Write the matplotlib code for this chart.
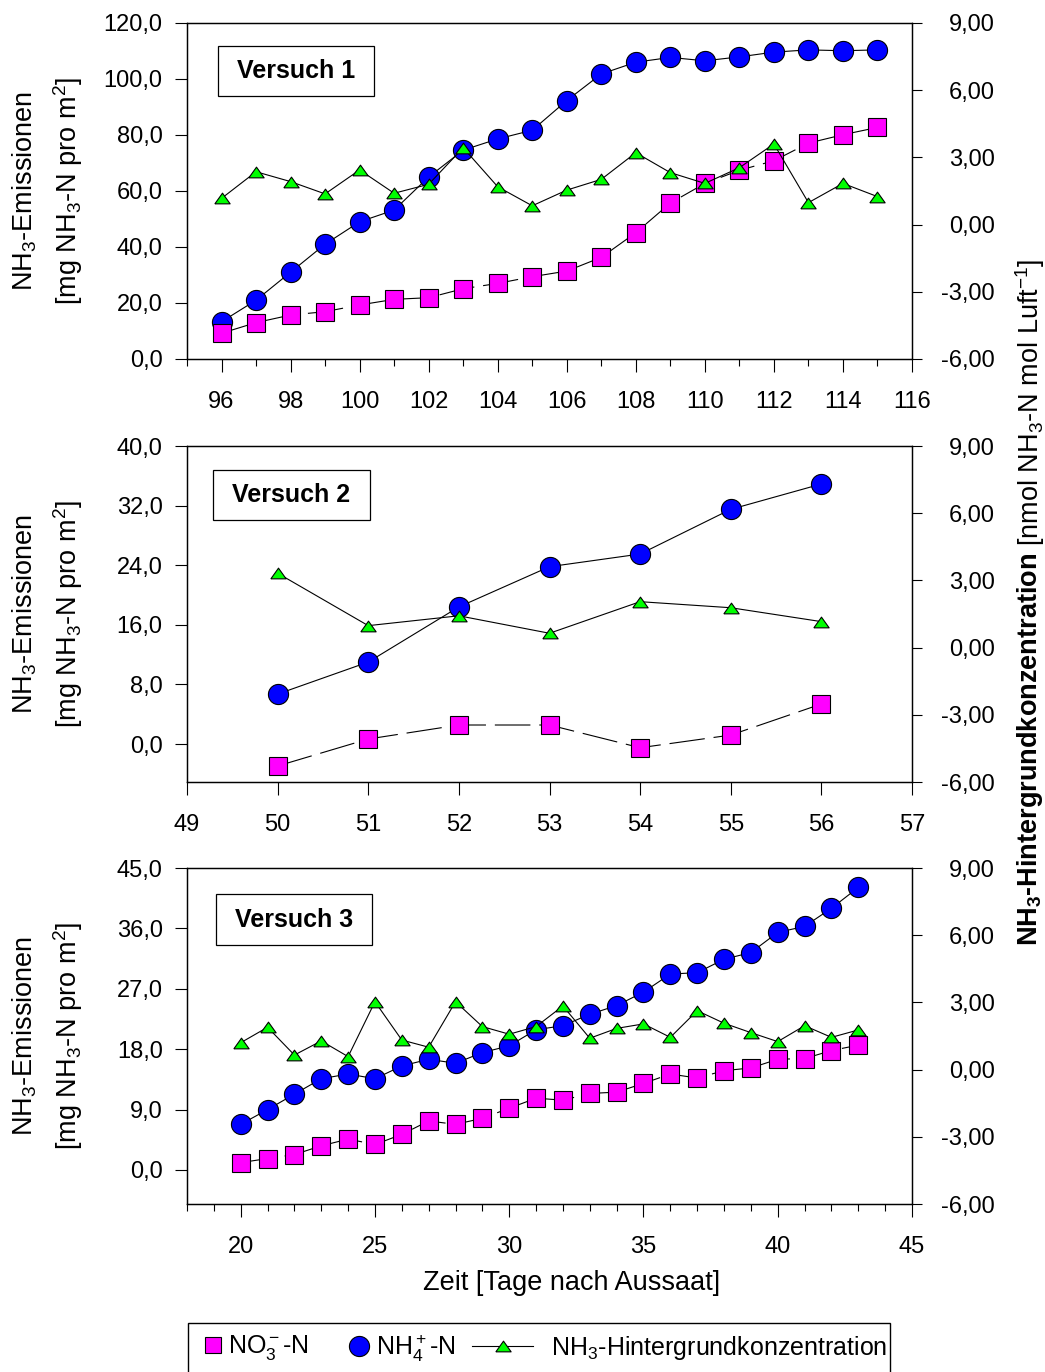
import matplotlib
matplotlib.use("Agg")
import matplotlib.pyplot as plt
from matplotlib.ticker import MultipleLocator, FixedLocator, FuncFormatter
from matplotlib.patches import Rectangle
from matplotlib.lines import Line2D

plt.rcParams.update({
    "font.family": ["Liberation Sans", "DejaVu Sans"],
    "mathtext.fontset": "custom",
    "mathtext.rm": "Liberation Sans",
    "mathtext.it": "Liberation Sans:italic",
    "mathtext.bf": "Liberation Sans:bold",
    "mathtext.sf": "Liberation Sans",
    "mathtext.default": "regular",
    "axes.unicode_minus": False,
})

# ---------------- data ----------------
days1 = list(range(96, 116))
nh4_1 = [13.3, 21.0, 31.0, 41.0, 49.0, 53.2, 65.0, 74.6, 78.6, 81.7,
         92.3, 101.8, 106.0, 107.7, 106.5, 107.9, 109.6, 110.4, 110.1, 110.4]
no3_1 = [9.2, 13.0, 15.7, 16.9, 19.3, 21.3, 21.9, 25.1, 27.0, 29.4,
         31.4, 36.3, 45.1, 55.7, 62.7, 67.4, 70.8, 77.1, 80.1, 82.7]
bg_1 = [1.17, 2.36, 1.92, 1.37, 2.44, 1.40, 1.80, 3.43, 1.69, 0.84,
        1.54, 2.02, 3.21, 2.32, 1.84, 2.54, 3.60, 0.98, 1.84, 1.25]

days2 = list(range(50, 57))
nh4_2 = [6.7, 11.0, 18.4, 23.8, 25.5, 31.5, 34.9]
no3_2 = [-2.95, 0.67, 2.55, 2.55, -0.5, 1.2, 5.37]
bg_2 = [3.32, 0.98, 1.42, 0.64, 2.05, 1.78, 1.16]

days3 = list(range(20, 44))
nh4_3 = [6.8, 9.0, 11.3, 13.6, 14.3, 13.6, 15.5, 16.5, 15.9, 17.5, 18.5, 20.9,
         21.5, 23.2, 24.5, 26.5, 29.2, 29.4, 31.4, 32.4, 35.4, 36.3, 39.0, 42.1]
no3_3 = [1.1, 1.7, 2.3, 3.6, 4.6, 3.8, 5.3, 7.3, 6.8, 7.7, 9.2, 10.7,
         10.4, 11.4, 11.6, 12.9, 14.3, 13.7, 14.8, 15.2, 16.5, 16.6, 17.8, 18.6]
bg_3 = [1.20, 1.89, 0.65, 1.28, 0.58, 3.03, 1.32, 1.00, 3.03, 1.92, 1.58, 1.92,
        2.84, 1.40, 1.84, 2.04, 1.44, 2.63, 2.07, 1.65, 1.25, 1.96, 1.44, 1.77]

left_ticks1 = [0, 20, 40, 60, 80, 100, 120]
left_ticks2 = [0, 8, 16, 24, 32, 40]
left_ticks3 = [0, 9, 18, 27, 36, 45]
right_ticks = [-6, -3, 0, 3, 6, 9]

titles = ["Versuch 1", "Versuch 2", "Versuch 3"]
lab_no3 = "NO$_3^-$-N"
lab_nh4 = "NH$_4^+$-N"
lab_bg = "NH$_3$-Hintergrundkonzentration"
ylab_left = "NH$_3$-Emissionen\n[mg NH$_3$-N pro m$^2$]"
ylab_right_bold = "NH$_\\mathbf{3}$-Hintergrundkonzentration"
ylab_right_reg = "[nmol NH$_3$-N mol Luft$^{-1}$]"
xlab = "Zeit [Tage nach Aussaat]"

# ---------------- style ----------------
BLUE = "#0000FF"
MAG = "#FF00FF"
GREEN = "#00FF00"
TRI = [(-1, -0.7), (1, -0.7), (0, 0.7), (-1, -0.7)]
W, H = 1045, 1372

fig = plt.figure(figsize=(W / 100, H / 100), dpi=100)


def add_axes_px(left, top, right, bottom):
    return fig.add_axes([left / W, 1 - bottom / H, (right - left) / W, (bottom - top) / H])


fmt_left = FuncFormatter(lambda v, p: f"{v:.1f}".replace(".", ","))
fmt_right = FuncFormatter(lambda v, p: f"{v:.2f}".replace(".", ","))


def panel(ax, days, nh4, no3, bg, ylim, yticks, xlim, xmaj, xmin, title, box):
    ax.plot(days, nh4, color="black", lw=0.8, marker="o", ms=14.5, mfc=BLUE,
            mec="black", mew=0.8, zorder=2)
    ax.plot(days, no3, color="black", lw=0.8, ls=(0, (32, 8)), marker="s", ms=12.5,
            mfc=MAG, mec="black", mew=0.8, zorder=3)
    ax.set_xlim(*xlim)
    ax.set_ylim(*ylim)
    ax.yaxis.set_major_locator(FixedLocator(yticks))
    ax.yaxis.set_major_formatter(fmt_left)
    ax.xaxis.set_major_locator(MultipleLocator(xmaj))
    if xmin:
        ax.xaxis.set_minor_locator(MultipleLocator(xmin))
    ax.tick_params(axis="y", which="major", direction="out", length=9, width=0.8,
                   labelsize=17, pad=8.5)
    ax.tick_params(axis="x", which="major", direction="out", length=9.5, width=0.8,
                   labelsize=17, pad=13.5, top=False)
    ax.tick_params(axis="x", which="minor", direction="out", length=5, width=0.8, top=False)
    for s in ax.spines.values():
        s.set_linewidth(0.9)
    ax.set_ylabel(ylab_left, fontsize=19.5, linespacing=1.45)
    ax.yaxis.set_label_coords(-0.141, 0.5)

    ax2 = ax.twinx()
    ax2.plot(days, bg, color="black", lw=0.8, marker=TRI, ms=11, mfc=GREEN,
             mec="black", mew=0.8)
    ax2.set_ylim(-6, 9)
    ax2.yaxis.set_major_locator(FixedLocator(right_ticks))
    ax2.yaxis.set_major_formatter(fmt_right)
    ax2.tick_params(axis="y", direction="out", length=7.5, width=0.8, labelsize=17, pad=52)
    for lbl in ax2.get_yticklabels():
        lbl.set_horizontalalignment("right")
    for s in ax2.spines.values():
        s.set_linewidth(0.9)

    x0, y0, w, h = box
    ax.add_patch(Rectangle((x0, y0), w, h, transform=ax.transAxes, fill=False,
                           ec="black", lw=0.9, zorder=5))
    ax.text(x0 + w / 2, y0 + h / 2, title, transform=ax.transAxes, ha="center",
            va="center", fontsize=18, fontweight="bold", zorder=6)
    return ax2


ax1 = add_axes_px(187, 23, 912, 359)
ax2 = add_axes_px(187, 446, 912, 782)
ax3 = add_axes_px(187, 868, 912, 1204)

panel(ax1, days1, nh4_1, no3_1, bg_1, (0, 120), left_ticks1, (95, 116), 2, 1,
      titles[0], (0.0428, 0.7827, 0.2152, 0.1488))
panel(ax2, days2, nh4_2, no3_2, bg_2, (-5.1, 40), left_ticks2, (49, 57), 1, None,
      titles[1], (0.0359, 0.7798, 0.2166, 0.1488))
panel(ax3, days3, nh4_3, no3_3, bg_3, (-5.07, 45), left_ticks3, (18, 45), 5, 1,
      titles[2], (0.0400, 0.7708, 0.2152, 0.1518))

ax3.set_xlabel(xlab, fontsize=19.5)
ax3.xaxis.set_label_coords(0.53, -0.195)

# ---------------- legend ----------------
fs_leg = 18
yl = 24 / H
h1 = Line2D([], [], ls="none", marker="s", ms=12, mfc=MAG, mec="black", mew=0.8)
h2 = Line2D([], [], ls="none", marker="o", ms=14.5, mfc=BLUE, mec="black", mew=0.8)
h3 = Line2D([], [], color="black", lw=0.8, marker=TRI, ms=11, mfc=GREEN, mec="black", mew=0.8)
fig.legend([h1], [lab_no3], loc="center left", bbox_to_anchor=(204 / W, yl), frameon=False,
           borderpad=0, borderaxespad=0, handlelength=0.7, handletextpad=0.25, fontsize=fs_leg)
fig.legend([h2], [lab_nh4], loc="center left", bbox_to_anchor=(349 / W, yl), frameon=False,
           borderpad=0, borderaxespad=0, handlelength=0.8, handletextpad=0.28, fontsize=fs_leg)
fig.legend([h3], [lab_bg], loc="center left", bbox_to_anchor=(472 / W, yl), frameon=False,
           borderpad=0, borderaxespad=0, handlelength=2.45, handletextpad=0.7, fontsize=fs_leg)
fig.add_artist(Rectangle((188 / W, -0.02), (890 - 188) / W, (1372 - 1323) / H + 0.02,
                         transform=fig.transFigure, fill=False, ec="black", lw=1.0))

# ---------------- right label ----------------
t1 = fig.text(1030 / W, (H - 946) / H, ylab_right_bold, rotation=90, ha="center",
              va="bottom", fontsize=19.5, fontweight="bold")
fig.canvas.draw()
bb = t1.get_window_extent()
fig.text(1030 / W, (bb.y1 + 7) / H, ylab_right_reg, rotation=90, ha="center",
         va="bottom", fontsize=19.5)

fig.savefig("out.png", dpi=100)
